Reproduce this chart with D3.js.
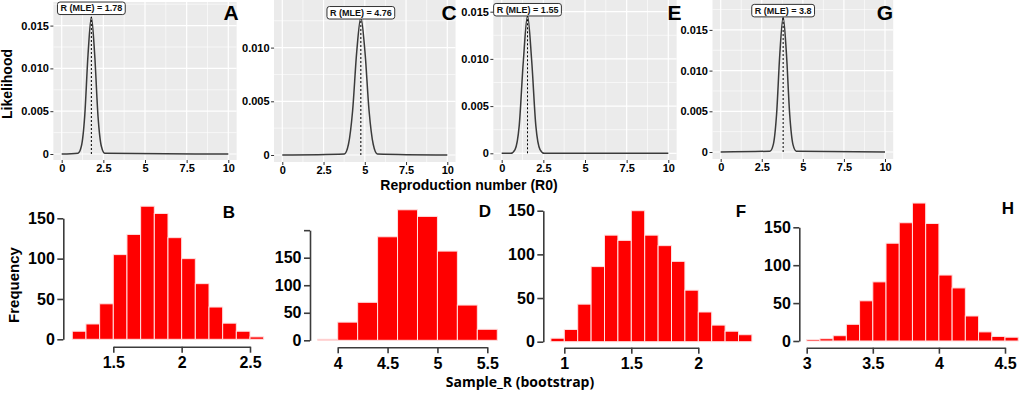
<!DOCTYPE html>
<html>
<head>
<meta charset="utf-8">
<script src="https://cdn.jsdelivr.net/npm/d3@7"></script>
<style>
  html, body { margin: 0; padding: 0; background: #ffffff; }
  svg { display: block; font-family: "Liberation Sans", Arial, sans-serif; }
</style>
</head>
<body>
<script>
// ---------------- DATA ----------------
// Likelihood curves (Reproduction number R0 vs likelihood)
const mleA = 1.78, mleC = 4.76, mleE = 1.55, mleG = 3.8;
const curveXA = [0, 0.98, 1.18, 1.38, 1.58, 1.78, 1.98, 2.18, 2.38, 2.58, 10];
const curveYA = [0, 0.0001, 0.0009, 0.0044, 0.0116, 0.0160, 0.0116, 0.0044, 0.0009, 0.0001, 0];
const curveXC = [0, 3.76, 4.01, 4.26, 4.51, 4.76, 5.01, 5.26, 5.51, 5.76, 10];
const curveYC = [0, 0.0001, 0.0010, 0.0041, 0.0096, 0.0128, 0.0096, 0.0041, 0.0010, 0.0001, 0];
const curveXE = [0, 0.55, 0.80, 1.05, 1.30, 1.55, 1.80, 2.05, 2.30, 2.55, 10];
const curveYE = [0, 0.0000, 0.0004, 0.0029, 0.0098, 0.0146, 0.0098, 0.0029, 0.0004, 0.0000, 0];
const curveXG = [0, 3.0, 3.2, 3.4, 3.6, 3.8, 4.0, 4.2, 4.4, 4.6, 10];
const curveYG = [0, 0.0001, 0.0009, 0.0046, 0.0121, 0.0166, 0.0121, 0.0046, 0.0009, 0.0001, 0];
const topXTicks = [0, 2.5, 5, 7.5, 10];
const topYTicks = [0, 0.005, 0.010, 0.015];

// Bootstrap histograms (Sample_R)
const edgesB = [1.2, 1.3, 1.4, 1.5, 1.6, 1.7, 1.8, 1.9, 2.0, 2.1, 2.2, 2.3, 2.4, 2.5, 2.6];
const countsB = [10, 19, 44, 105, 130, 165, 156, 126, 100, 69, 40, 20, 10, 3];
const edgesD = [3.8, 4.0, 4.2, 4.4, 4.6, 4.8, 5.0, 5.2, 5.4, 5.6];
const countsD = [2, 33, 69, 188, 237, 225, 162, 64, 20];
const edgesF = [0.9, 1.0, 1.1, 1.2, 1.3, 1.4, 1.5, 1.6, 1.7, 1.8, 1.9, 2.0, 2.1, 2.2, 2.3, 2.4];
const countsF = [4, 14, 43, 86, 122, 116, 150, 122, 110, 92, 59, 34, 19, 12, 8];
const edgesH = [3.0, 3.1, 3.2, 3.3, 3.4, 3.5, 3.6, 3.7, 3.8, 3.9, 4.0, 4.1, 4.2, 4.3, 4.4, 4.5, 4.6];
const countsH = [2, 3, 7, 22, 53, 78, 129, 156, 182, 155, 87, 70, 33, 12, 6, 5];
const xTicksB = [1.5, 2, 2.5], xTicksD = [4, 4.5, 5, 5.5], xTicksF = [1, 1.5, 2], xTicksH = [3, 3.5, 4, 4.5];
const yTicksB = [0, 50, 100, 150], yTicksD = [0, 50, 100, 150, 200], yTicksF = [0, 50, 100, 150], yTicksH = [0, 50, 100, 150];
const yLabelsD = ["0", "50", "100", "150", ""];

// ---------------- DRAW ----------------
const svg = d3.select("body").append("svg").attr("width", 1021).attr("height", 395);

function topPanel(o) {
  const x = d3.scaleLinear().domain([0, 10]).range([o.x0, o.x10]);
  const y = d3.scaleLinear().domain([0, 0.005]).range([o.y0, o.y005]);
  const g = svg.append("g");
  const L = x(-0.5), R = x(10.5);
  g.append("rect").attr("x", L).attr("y", o.top).attr("width", R - L).attr("height", o.bottom - o.top).attr("fill", "#EBEBEB");
  const yMin = y.invert(o.bottom), yMax = y.invert(o.top);
  // minor grid
  [0.0025, 0.0075, 0.0125, 0.0175].filter(v => v > yMin && v < yMax).forEach(v => {
    g.append("line").attr("x1", L).attr("x2", R).attr("y1", y(v)).attr("y2", y(v)).attr("stroke", "#fff").attr("stroke-width", 0.6);
  });
  [1.25, 3.75, 6.25, 8.75].forEach(v => {
    g.append("line").attr("x1", x(v)).attr("x2", x(v)).attr("y1", o.top).attr("y2", o.bottom).attr("stroke", "#fff").attr("stroke-width", 0.6);
  });
  // major grid
  topYTicks.filter(v => v > yMin && v < yMax).forEach(v => {
    g.append("line").attr("x1", L).attr("x2", R).attr("y1", y(v)).attr("y2", y(v)).attr("stroke", "#fff").attr("stroke-width", 1.2);
  });
  topXTicks.forEach(v => {
    g.append("line").attr("x1", x(v)).attr("x2", x(v)).attr("y1", o.top).attr("y2", o.bottom).attr("stroke", "#fff").attr("stroke-width", 1.2);
  });
  // axes
  const ya = g.append("g").attr("transform", `translate(${L},0)`)
    .call(d3.axisLeft(y).tickValues(topYTicks.filter(v => v > yMin && v < yMax))
      .tickSize(3).tickPadding(1.5).tickFormat(d => d === 0 ? "0" : d.toFixed(3)));
  ya.select(".domain").remove();
  ya.selectAll("line").attr("stroke", "#333");
  ya.selectAll("text").attr("font-size", 11).attr("font-weight", "bold").attr("fill", "#000").attr("font-family", "Liberation Sans, Arial, sans-serif");
  const xa = g.append("g").attr("transform", `translate(0,${o.bottom})`)
    .call(d3.axisBottom(x).tickValues(topXTicks).tickSize(3).tickPadding(1).tickFormat(d => String(d)));
  xa.select(".domain").remove();
  xa.selectAll("line").attr("stroke", "#333");
  xa.selectAll("text").attr("font-size", 11).attr("font-weight", "bold").attr("fill", "#000").attr("font-family", "Liberation Sans, Arial, sans-serif");
  // curve
  const pts = o.cx.map((v, i) => [v, o.cy[i]]);
  g.append("path").attr("d", d3.line().x(d => x(d[0])).y(d => y(d[1])).curve(d3.curveMonotoneX)(pts))
    .attr("fill", "none").attr("stroke", "#3a3a3a").attr("stroke-width", 1.5);
  const peak = d3.max(o.cy);
  g.append("line").attr("x1", x(o.mle)).attr("x2", x(o.mle)).attr("y1", y(0)).attr("y2", y(peak))
    .attr("stroke", "#000").attr("stroke-width", 1).attr("stroke-dasharray", "2,2");
  // label
  const lg = g.append("g");
  const t = lg.append("text").attr("x", x(o.mle)).attr("y", y(peak) - o.lab + 3.2)
    .attr("text-anchor", "middle").attr("font-size", 9).attr("font-weight", "bold").attr("fill", "#111")
    .text("R (MLE) = " + o.mle);
  const bb = t.node().getBBox();
  lg.insert("rect", "text").attr("x", bb.x - 3).attr("y", y(peak) - o.lab - 6).attr("width", bb.width + 6).attr("height", 12.5)
    .attr("rx", 2.5).attr("fill", "#fff").attr("stroke", "#333").attr("stroke-width", 1);
  // panel letter
  g.append("text").attr("x", R + o.ldx).attr("y", 20).attr("text-anchor", "end")
    .attr("font-size", 21).attr("font-weight", "bold").attr("fill", "#000").text(o.letter);
}

topPanel({cx: curveXA, cy: curveYA, mle: mleA, x0: 61.7, x10: 228.3, y0: 154, y005: 111.2, top: 2, bottom: 160, lab: 9, letter: "A", ldx: 2});
topPanel({cx: curveXC, cy: curveYC, mle: mleC, x0: 282.3, x10: 447.3, y0: 155, y005: 101.3, top: 0, bottom: 162, lab: 5, letter: "C", ldx: 1});
topPanel({cx: curveXE, cy: curveYE, mle: mleE, x0: 501.7, x10: 668.3, y0: 153.3, y005: 106.1, top: 0, bottom: 160, lab: 6, letter: "E", ldx: 5});
topPanel({cx: curveXG, cy: curveYG, mle: mleG, x0: 720.7, x10: 885, y0: 152, y005: 111.3, top: 0, bottom: 159, lab: 6.5, letter: "G", ldx: 0});

function histPanel(o) {
  const x = d3.scaleLinear().domain([o.xt[0], o.xt[o.xt.length - 1]]).range([o.xa, o.xb]);
  const y = d3.scaleLinear().domain([0, 150]).range([o.y0, o.y150]);
  const g = svg.append("g");
  o.counts.forEach((c, i) => {
    g.append("rect").attr("x", x(o.edges[i])).attr("width", x(o.edges[i + 1]) - x(o.edges[i]))
      .attr("y", y(c)).attr("height", y(0) - y(c))
      .attr("fill", "#FF0000").attr("stroke", "#FFE0E0").attr("stroke-width", 1);
  });
  const ys = y.copy().domain([o.yt[0], o.yt[o.yt.length - 1]]).range([y(o.yt[0]), y(o.yt[o.yt.length - 1])]);
  const ya = g.append("g").attr("transform", `translate(${o.ax},0)`)
    .call(d3.axisLeft(ys).tickValues(o.yt).tickSize(6).tickSizeOuter(0).tickPadding(2.5)
      .tickFormat((d, i) => o.yl ? o.yl[i] : String(d)));
  const xa = g.append("g").attr("transform", `translate(0,${o.ay})`)
    .call(d3.axisBottom(x).tickValues(o.xt).tickSize(6).tickSizeOuter(0).tickPadding(4).tickFormat(d => String(d)));
  [ya, xa].forEach(a => {
    a.selectAll("path, line").attr("stroke", "#3c3c3c").attr("stroke-width", 1.6);
    a.selectAll("text").attr("font-size", 16).attr("font-weight", "bold").attr("fill", "#000").attr("font-family", "Liberation Sans, Arial, sans-serif");
  });
  g.append("text").attr("x", o.lx).attr("y", o.ly).attr("text-anchor", "middle")
    .attr("font-size", 17).attr("font-weight", "bold").attr("fill", "#000").text(o.letter);
}

histPanel({edges: edgesB, counts: countsB, xt: xTicksB, yt: yTicksB, xa: 113.3, xb: 250, y0: 339.3, y150: 218.3, ax: 63.3, ay: 346.7, letter: "B", lx: 229, ly: 218});
histPanel({edges: edgesD, counts: countsD, xt: xTicksD, yt: yTicksD, yl: yLabelsD, xa: 337.7, xb: 487.3, y0: 340.3, y150: 257.7, ax: 310, ay: 347.3, letter: "D", lx: 485, ly: 216.5});
histPanel({edges: edgesF, counts: countsF, xt: xTicksF, yt: yTicksF, xa: 564.3, xb: 698.3, y0: 341.7, y150: 210.7, ax: 543.3, ay: 347.7, letter: "F", lx: 741, ly: 216.5});
histPanel({edges: edgesH, counts: countsH, xt: xTicksH, yt: yTicksH, xa: 806.7, xb: 1005, y0: 341, y150: 227.3, ax: 799.3, ay: 347.7, letter: "H", lx: 1008, ly: 214});

// axis titles
svg.append("text").attr("transform", "translate(12,84) rotate(-90)").attr("text-anchor", "middle")
  .attr("font-size", 14).attr("font-weight", "bold").attr("fill", "#000").text("Likelihood");
svg.append("text").attr("transform", "translate(18.5,285) rotate(-90)").attr("text-anchor", "middle")
  .attr("font-size", 15).attr("font-weight", "bold").attr("fill", "#000").text("Frequency");
svg.append("text").attr("x", 469).attr("y", 190).attr("text-anchor", "middle")
  .attr("font-size", 14).attr("font-weight", "bold").attr("fill", "#000").text("Reproduction number (R0)");
svg.append("text").attr("x", 520).attr("y", 387).attr("text-anchor", "middle")
  .attr("font-family", "'Open Sans', sans-serif").attr("font-size", 14).attr("font-weight", 700).attr("fill", "#000")
  .text("Sample_R (bootstrap)");
</script>
</body>
</html>
